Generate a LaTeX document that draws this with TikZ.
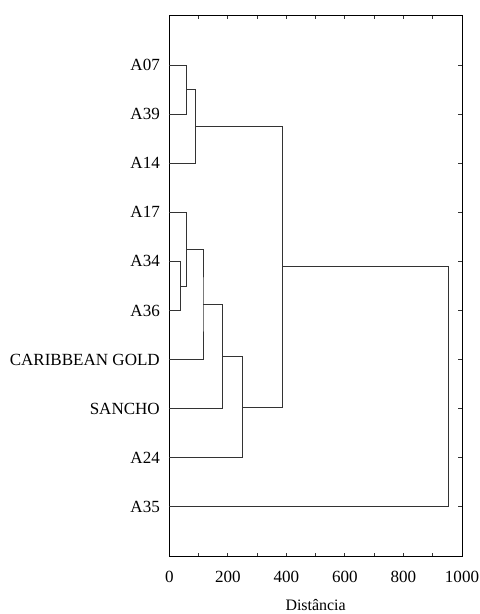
\documentclass[tikz,border=0pt]{standalone}
\usepackage{fontspec}
\setmainfont{Liberation Serif}
\begin{document}
\begin{tikzpicture}[x=1bp,y=-1bp,
  lbl/.style={anchor=east,inner sep=0pt,font=\fontsize{17.1}{19}\selectfont},
  num/.style={anchor=center,inner sep=0pt,font=\fontsize{17.1}{19}\selectfont},
  link/.style={draw=black!80,line width=0.9bp},
  axis/.style={draw=black,line width=0.9bp},
  tick/.style={draw=black!80,line width=0.9bp}]
\useasboundingbox (0,0) rectangle (480,614);
% frame
\coordinate (fTL) at (169.3,15.9);
\coordinate (fBR) at (462,556);
\draw[axis] (fTL) rectangle (fBR);
% ticks
\foreach \i in {1,...,9}{
  \draw[tick] (169.3+29.27*\i,15.9) -- ++(0,3.5);
  \draw[tick] (169.3+29.27*\i,556) -- ++(0,-3.5);
}
\foreach \y in {65,114.1,163.2,212.3,261.4,310.5,359.6,408.7,457.8,506.9}{
  \draw[tick] (462,\y) -- ++(-4.5,0);
}
% axis numbers
\foreach \v [count=\k from 0] in {0,200,400,600,800,1000}{
  \node[num] (n\k) at (169.3+58.54*\k,576.5) {\v};
}
\node[num,anchor=base,font=\fontsize{16}{18}\selectfont] (xlab) at (315.6,610.5) {Distância};
% leaf labels
\node[lbl] (t1) at (160,65) {A07};
\node[lbl] (t2) at (160,114.1) {A39};
\node[lbl] (t3) at (160,163.2) {A14};
\node[lbl] (t4) at (160,212.3) {A17};
\node[lbl] (t5) at (160,261.4) {A34};
\node[lbl] (t6) at (160,310.5) {A36};
\node[lbl] (t7) at (160,359.6) {CARIBBEAN GOLD};
\node[lbl] (t8) at (160,408.7) {SANCHO};
\node[lbl] (t9) at (160,457.8) {A24};
\node[lbl] (t10) at (160,506.9) {A35};
% leaf ends on axis
\coordinate (l1) at (169.3,65);
\coordinate (l2) at (169.3,114.1);
\coordinate (l3) at (169.3,163.2);
\coordinate (l4) at (169.3,212.3);
\coordinate (l5) at (169.3,261.4);
\coordinate (l6) at (169.3,310.5);
\coordinate (l7) at (169.3,359.6);
\coordinate (l8) at (169.3,408.7);
\coordinate (l9) at (169.3,457.8);
\coordinate (l10) at (169.3,506.9);
% merge points
\coordinate (m1) at (186.9,89.55);
\coordinate (m2) at (195.6,126.4);
\coordinate (m3) at (180.7,285.95);
\coordinate (m4) at (186.9,249.1);
\coordinate (m5) at (203.0,304.35);
\coordinate (m6) at (222.3,356.5);
\coordinate (m7) at (242.5,407.15);
\coordinate (m8) at (282.3,266.8);
\coordinate (m9) at (448.8,266.8);
% links
\draw[link] (l1) -| (m1) |- (l2);
\draw[link] (m1) -| (m2) |- (l3);
\draw[link] (l5) -| (m3) |- (l6);
\draw[link] (l4) -| (m4) |- (m3);
\draw[link] (m4) -| (m5) |- (l7);
\draw[link] (m5) -| (m6) |- (l8);
\draw[link] (m6) -| (m7) |- (l9);
\draw[link] (m2) -| (m8) |- (m7);
\draw[link] (m8) -- (m9) |- (l10);
\end{tikzpicture}
\end{document}
